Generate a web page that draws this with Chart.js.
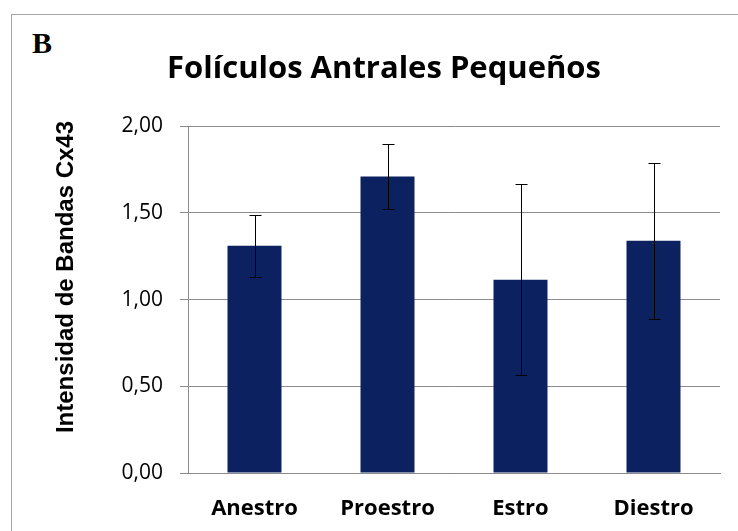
<!DOCTYPE html>
<html>
<head>
<meta charset="utf-8">
<script src="https://cdn.jsdelivr.net/npm/chart.js@4.4.0/dist/chart.umd.min.js"></script>
<style>
  html, body { margin: 0; padding: 0; background: #fff; }
  #wrap { position: relative; width: 738px; height: 531px; overflow: hidden; }
  #frame { position: absolute; left: 11px; top: 14px; width: 800px; height: 600px; border: 1px solid #a6a6a6; }
  #panel { position: absolute; left: 32px; top: 28px; font: bold 30px/30px "Liberation Serif", serif; color: #000; }
  canvas { position: absolute; left: 0; top: 0; }
</style>
</head>
<body>
<div id="wrap">
  <div id="frame"></div>
  <div id="panel">B</div>
  <canvas id="chart" width="738" height="531"></canvas>
</div>
<script>
// Cx43 band intensity per oestrous phase (mean and error)
const phases = ['Anestro', 'Proestro', 'Estro', 'Diestro'];
const means = [1.31, 1.71, 1.115, 1.34];
const errors = [0.18, 0.185, 0.55, 0.45];
const yTicks = [0, 0.5, 1.0, 1.5, 2.0];
const yTitle = 'Intensidad de Bandas Cx43';

const barColor = '#0c2160';
const gridColor = '#8c8c8c';
const font = '"Open Sans", sans-serif';

// Draws symmetric error bars on top of each bar
const errorBars = {
  id: 'errorBars',
  afterDatasetsDraw(chart) {
    const ctx = chart.ctx;
    const meta = chart.getDatasetMeta(0);
    const y = chart.scales.y;
    ctx.save();
    ctx.strokeStyle = '#000';
    ctx.lineWidth = 1;
    meta.data.forEach((bar, i) => {
      const x = Math.round(bar.x) + 0.5;
      const top = Math.round(y.getPixelForValue(means[i] + errors[i])) + 0.5;
      const bottom = Math.round(y.getPixelForValue(means[i] - errors[i])) + 0.5;
      ctx.beginPath();
      ctx.moveTo(x, top);
      ctx.lineTo(x, bottom);
      ctx.moveTo(x - 6, top);
      ctx.lineTo(x + 6, top);
      ctx.moveTo(x - 6, bottom);
      ctx.lineTo(x + 6, bottom);
      ctx.stroke();
    });
    ctx.restore();
  }
};

// Vertical axis title, placed a little above the axis middle
const axisTitle = {
  id: 'axisTitle',
  afterDraw(chart) {
    const ctx = chart.ctx;
    ctx.save();
    ctx.translate(66, 277);
    ctx.rotate(-Math.PI / 2);
    ctx.font = 'bold 24px "Liberation Sans", Arial, sans-serif';
    ctx.fillStyle = '#000';
    ctx.textAlign = 'center';
    ctx.textBaseline = 'middle';
    ctx.fillText(yTitle, 0, 0);
    ctx.restore();
  }
};

new Chart(document.getElementById('chart'), {
  type: 'bar',
  data: {
    labels: phases,
    datasets: [{
      data: means,
      backgroundColor: barColor,
      borderWidth: 0,
      barPercentage: 0.406,
      categoryPercentage: 1
    }]
  },
  options: {
    responsive: false,
    animation: false,
    layout: { padding: { left: 48, right: 18, top: 0, bottom: 0 } },
    plugins: {
      legend: { display: false },
      tooltip: { enabled: false },
      title: {
        display: true,
        text: 'Folículos Antrales Pequeños',
        color: '#000',
        font: { family: font, size: 31, weight: 'bold' },
        padding: { top: 51, bottom: 38 }
      }
    },
    scales: {
      x: {
        afterFit(scale) { scale.height = 58; },
        grid: { display: false, drawTicks: false },
        border: { color: gridColor },
        ticks: {
          color: '#000',
          padding: 23,
          font: { family: font, size: 22, weight: 'bold' }
        }
      },
      y: {
        min: 0,
        max: 2,
        afterFit(scale) { scale.width = 140; },
        afterBuildTicks(scale) { scale.ticks = yTicks.map(v => ({ value: v })); },
        grid: { color: gridColor, tickLength: 8 },
        border: { color: gridColor },
        ticks: {
          color: '#000',
          padding: 17,
          font: { family: font, size: 21 },
          callback: v => v.toFixed(2).replace('.', ',')
        }
      }
    }
  },
  plugins: [errorBars, axisTitle]
});
</script>
</body>
</html>
